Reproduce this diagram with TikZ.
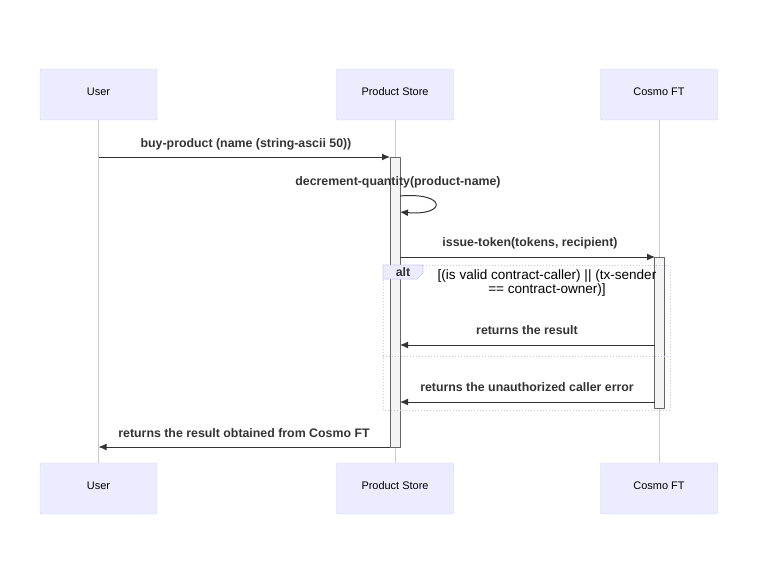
\documentclass[tikz,border=0pt]{standalone}
\usepackage{fontspec}
\setmainfont{Liberation Sans}
\usepackage{tikz}
\usetikzlibrary{arrows.meta,shapes}
\definecolor{actorfill}{HTML}{ECECFF}
\definecolor{actorline}{HTML}{CCCCFF}
\definecolor{lifecol}{HTML}{CCCCCC}
\definecolor{actfill}{HTML}{F4F4F4}
\definecolor{actline}{HTML}{666666}
\definecolor{msgcol}{HTML}{333333}
\definecolor{altline}{HTML}{C8C8F0}

\begin{document}
\begin{tikzpicture}[>={Latex[length=8bp,width=7bp]},line join=bevel,
  actor/.style={draw=actorline,fill=actorfill,rounded corners=2bp,minimum width=117bp,minimum height=51bp,inner sep=0pt,text depth=6bp,font=\fontsize{11}{13}\selectfont},
  lifeline/.style={draw=lifecol,line width=0.6bp},
  activation/.style={draw=actline,fill=actfill,minimum width=10bp,inner sep=0pt,line width=0.6bp},
  msg/.style={->,draw=msgcol,line width=1bp},
  msglabel/.style={font=\fontsize{12.4}{14}\selectfont\bfseries,text=msgcol,inner sep=0pt},
  condlabel/.style={font=\fontsize{13.6}{14}\selectfont,text=black,inner sep=0pt},
  altbox/.style={draw=altline,dotted,line width=1bp},
]
\useasboundingbox (0bp,0bp) rectangle (758bp,-577bp);
%%
  % Node: actors
  \node[actor] (user top) at (98.5bp,-94.5bp) {User};
  \node[actor] (store top) at (395bp,-94.5bp) {Product Store};
  \node[actor] (ft top) at (659bp,-94.5bp) {Cosmo FT};
  \node[actor] (user bot) at (98.5bp,-488.5bp) {User};
  \node[actor] (store bot) at (395bp,-488.5bp) {Product Store};
  \node[actor] (ft bot) at (659bp,-488.5bp) {Cosmo FT};
  % Edge: lifelines
  \draw[lifeline] (user top) -- (user bot);
  \draw[lifeline] (store top) -- (store bot);
  \draw[lifeline] (ft top) -- (ft bot);
  % Node: activations
  \node[activation,minimum height=290bp] (store act) at (395bp,-302bp) {};
  \node[activation,minimum height=151bp] (ft act) at (659.5bp,-332.5bp) {};
  % Node: alt fragment
  \draw[altbox] (383bp,-265bp) rectangle (670bp,-410bp);
  \draw[altbox] (383bp,-356bp) -- (670bp,-356bp);
  \filldraw[draw=altline,fill=actorfill,line width=0.6bp] (383bp,-265bp) -- (423bp,-265bp) -- (423bp,-273bp) -- (417bp,-279bp) -- (383bp,-279bp) -- cycle;
  \node[msglabel] (alt label) at (403bp,-272bp) {alt};
  \node[condlabel,align=center] (alt cond) at (547bp,-283bp) {[(is valid contract-caller) || (tx-sender\\== contract-owner)]};
  % Coordinates: message ends
  \coordinate (m1 start) at (98.5bp,-157bp);
  \coordinate (m1 end) at (390bp,-157bp);
  \coordinate (m2 start) at (400bp,-196bp);
  \coordinate (m2 end) at (400bp,-212bp);
  \coordinate (m3 start) at (400bp,-257bp);
  \coordinate (m3 end) at (655bp,-257bp);
  \coordinate (m4 start) at (655bp,-345bp);
  \coordinate (m4 end) at (400bp,-345bp);
  \coordinate (m5 start) at (655bp,-402bp);
  \coordinate (m5 end) at (400bp,-402bp);
  \coordinate (m6 start) at (390bp,-447bp);
  \coordinate (m6 end) at (98.5bp,-447bp);
  % Edge: messages
  \draw[msg] (m1 start) -- (m1 end);
  \node[msglabel] (m1 label) at (246bp,-144bp) {buy-product (name (string-ascii 50))};
  \draw[msg] (m2 start) .. controls (447bp,-192bp) and (447bp,-216bp) .. (m2 end);
  \node[msglabel] (m2 label) at (398bp,-182bp) {decrement-quantity(product-name)};
  \draw[msg] (m3 start) -- (m3 end);
  \node[msglabel] (m3 label) at (530bp,-243bp) {issue-token(tokens, recipient)};
  \draw[msg] (m4 start) -- (m4 end);
  \node[msglabel] (m4 label) at (527bp,-330bp) {returns the result};
  \draw[msg] (m5 start) -- (m5 end);
  \node[msglabel] (m5 label) at (527bp,-387bp) {returns the unauthorized caller error};
  \draw[msg] (m6 start) -- (m6 end);
  \node[msglabel] (m6 label) at (244bp,-433bp) {returns the result obtained from Cosmo FT};
%
\end{tikzpicture}
\end{document}
